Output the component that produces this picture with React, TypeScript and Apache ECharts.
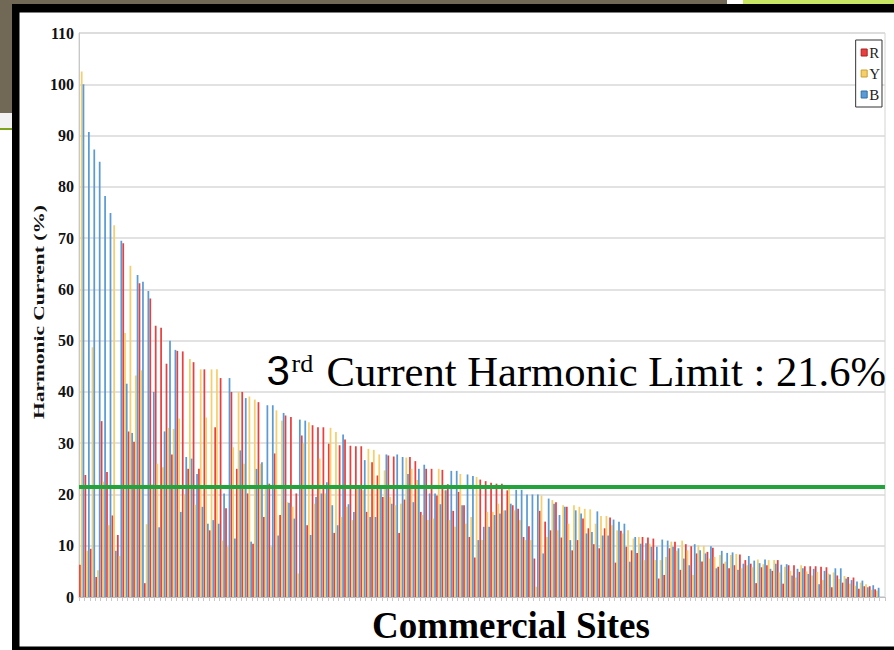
import React, { useEffect, useRef } from "react";
import * as echarts from "echarts";

// 149 commercial sites (last slot is empty in the source chart)
const siteCount = 149;
const categories: string[] = Array.from({ length: siteCount }, (_, i) => `Site ${i + 1}`);

const seriesNames = ["R", "Y", "B"];

const rValues: (number | null)[] = [
  6.3, 23.8, 9.4, 3.9, 34.3, 24.4, 15.9, 12.1, 69, 32.3,
  30.3, 61.2, 2.7, 58.2, 52.9, 52.5, 45.5, 27.8, 48, 47.9,
  25, 45.8, 25, 44.4, 13, 33.1, 42.7, 17.3, 40, 25,
  40, 20.2, 10.4, 38, 15.6, 22.1, 28, 16, 35.4, 35.1,
  20.2, 31.5, 14, 33.5, 33.1, 33.1, 29.9, 12.5, 29.6, 30.7,
  29.5, 29.4, 29.4, 16.6, 26.3, 23.7, 19.5, 27.6, 27.4, 12.5,
  19, 27.3, 26.5, 16.6, 25, 25, 19.8, 24.8, 22, 16.8,
  20.5, 17.9, 11.7, 7.7, 22.9, 22.6, 22.3, 22.1, 22.1, 20.8,
  17.9, 17.2, 11.7, 13.8, 7.5, 16.8, 14.7, 13, 18.5, 11.6,
  17.6, 9.1, 11.1, 15.3, 13.4, 10.3, 9.5, 13.4, 15.5, 6.7,
  12.9, 9.8, 9.1, 8.6, 11.7, 11.6, 11.4, 3.6, 4.3, 9.5,
  10.8, 5.3, 10.3, 9.9, 8.5, 6.9, 8.8, 9.6, 5.9, 6.5,
  5.6, 6.2, 8.3, 7.2, 6.5, 2.7, 5.8, 6.2, 5.1, 7.2,
  2.6, 6.2, 6.2, 4.9, 6, 6, 6, 5.9, 5.8, 1.9,
  4.2, 2.8, 3.9, 3.8, 1.6, 2.1, 2.1, 1.5, null,
];

const yValues: (number | null)[] = [
  102.5, 9, 48.7, 5.2, 22.5, 14, 72.5, 8, 51.5, 64.6,
  43.2, 44.2, 14.2, 22, 26, 25.3, 33, 32.8, 34.8, 20,
  46.4, 18, 44.4, 35, 44.4, 44.4, 11, 9.8, 29.2, 40,
  26, 39.1, 38.5, 26, 21.5, 9.8, 36.4, 34.4, 18.5, 17.6,
  4.6, 30, 34.1, 18.2, 27, 20.2, 33, 32.2, 15.6, 17.6,
  15, 21.5, 20.8, 28.9, 28.7, 27.8, 24.7, 19.5, 17.9, 18.2,
  27.2, 25, 22.8, 16, 15, 15.3, 25, 20.8, 15, 13.7,
  24, 14.3, 15.6, 23.4, 11.1, 16.6, 16.6, 18.2, 16.9, 21.8,
  16.9, 15, 11.1, 11.1, 2, 19.8, 11.7, 18.9, 13, 17.9,
  14.3, 17.9, 17.6, 17.2, 17.1, 14.3, 15.8, 15.8, 14, 13,
  12.4, 13, 11.4, 11.7, 7.2, 10.4, 7.2, 7.2, 7.8, 10.8,
  9, 11, 9.1, 4.3, 10.1, 10, 7.5, 7.8, 8.2, 6.9,
  8.2, 8.4, 5.6, 6.2, 5.8, 7.3, 6.4, 7.2, 7.2, 4.8,
  5.9, 5.1, 3.8, 6.2, 5, 4.2, 4.9, 3.3, 4.6, 4.8,
  3.5, 4.1, 2.6, 2.2, 2.8, 2.5, 1.4, 1.2, null,
];

const bValues: (number | null)[] = [
  100, 90.7, 87.3, 84.9, 78.2, 74.9, 9, 69.5, 41.6, 32,
  62.8, 61.5, 59.7, 40, 13.6, 32.3, 50, 48.2, 16.6, 27.3,
  27, 24, 17.6, 14.3, 15, 14.3, 20.2, 42.7, 11.4, 28.6,
  38.8, 10.8, 25, 26.3, 37.4, 37.4, 12, 35.9, 18.4, 15.3,
  34.6, 34.4, 12.1, 19.5, 20.2, 22.4, 17.9, 14, 31.7, 18.1,
  16.6, 21.5, 26.7, 15.6, 15.6, 21.6, 27.8, 18.2, 27.8, 27.3,
  24, 18.5, 25, 25.8, 20.2, 20.2, 18.1, 20.8, 24.6, 24.6,
  17.9, 23.9, 23.6, 11.1, 13.7, 13.7, 16, 16.3, 16.9, 18.2,
  20.9, 20.9, 20, 20, 20, 8.5, 19.2, 18.2, 16, 17.6,
  11.1, 16.9, 16.3, 12.4, 12.7, 16.7, 12, 12, 15.1, 14.7,
  14.3, 6.9, 11.7, 10.4, 10.5, 9.8, 9.8, 11.2, 11, 9.8,
  9.5, 7.5, 6.2, 10.3, 9.1, 8.5, 9.9, 5.6, 9, 8.6,
  8.7, 5.3, 6.5, 8, 7.1, 6.6, 7.3, 5.5, 6.5, 6.3,
  6.4, 4.2, 5.5, 5.6, 4.5, 5.5, 2.5, 5.1, 4.4, 5.6,
  5.6, 3.6, 3.3, 3, 3.2, 1.9, 2.3, 1.8, null,
];

const harmonicLimit = 21.6;
const yMin = 0;
const yMax = 110;
const yInterval = 10;

const colors = ["#e8403f", "#f6cf6b", "#5b9bd5"];
const legendBorders = ["#a82020", "#c9a030", "#2f6ea8"];

export default function App() {
  const ref = useRef<HTMLDivElement>(null);

  useEffect(() => {
    if (!ref.current) return;
    const chart = echarts.init(ref.current, undefined, { renderer: "svg" });
    const serif = "'Liberation Serif', 'Times New Roman', serif";
    const valuesList = [rValues, yValues, bValues];

    const option: any = {
      animation: false,
      backgroundColor: "#ffffff",
      grid: {
        left: 79,
        right: 9,
        top: 33,
        bottom: 53,
        show: true,
        borderColor: "#d4d4d4",
        borderWidth: 1,
      },
      legend: {
        data: seriesNames.map((n, i) => ({
          name: n,
          itemStyle: { borderColor: legendBorders[i], borderWidth: 1 },
        })),
        orient: "vertical",
        right: 12,
        top: 40,
        icon: "rect",
        itemWidth: 6,
        itemHeight: 7,
        itemGap: 6,
        padding: [5, 2, 5, 5],
        borderColor: "#333333",
        borderWidth: 1,
        backgroundColor: "#ffffff",
        textStyle: { fontFamily: serif, fontSize: 15, color: "#222", padding: [0, 0, 0, -3] },
      },
      xAxis: {
        type: "category",
        data: categories,
        boundaryGap: true,
        axisLine: { show: true, lineStyle: { color: "#bfbfbf", width: 1 } },
        axisTick: { show: true, interval: 0, length: 4, lineStyle: { color: "#c8c8c8" } },
        axisLabel: { show: false },
        splitLine: { show: false },
      },
      yAxis: {
        type: "value",
        min: yMin,
        max: yMax,
        interval: yInterval,
        axisLine: { show: true, lineStyle: { color: "#c8c8c8" } },
        axisTick: { show: false },
        axisLabel: {
          margin: 5,
          fontFamily: serif,
          fontWeight: "bold",
          fontSize: 16,
          color: "#111111",
        },
        splitLine: { show: true, lineStyle: { color: "#d9d9d9", width: 1.5 } },
      },
      series: seriesNames.map((name, i) => ({
        name,
        type: "bar",
        data: valuesList[i],
        barGap: "0%",
        barCategoryGap: "3%",
        itemStyle: { color: colors[i] },
        emphasis: { disabled: true },
        ...(i === 0
          ? {
              markLine: {
                silent: true,
                symbol: ["none", "none"],
                label: { show: false },
                lineStyle: { color: "#23a33c", width: 4, type: "solid" },
                data: [{ yAxis: harmonicLimit }],
              },
            }
          : {}),
      })),
      graphic: [
        // slide frame pieces
        { type: "rect", shape: { x: 0, y: 0, width: 727, height: 4 }, style: { fill: "#716856" }, silent: true },
        { type: "rect", shape: { x: 0, y: 0, width: 12, height: 113 }, style: { fill: "#716856" }, silent: true },
        { type: "rect", shape: { x: 0, y: 113, width: 12, height: 15 }, style: { fill: "#f2f2f2" }, silent: true },
        { type: "rect", shape: { x: 0, y: 128, width: 12, height: 2 }, style: { fill: "#7da21c" }, silent: true },
        { type: "rect", shape: { x: 743, y: 0, width: 151, height: 4 }, style: { fill: "#c8e663" }, silent: true },
        { type: "rect", shape: { x: 12, y: 4, width: 882, height: 8.5 }, style: { fill: "#000000" }, silent: true },
        { type: "rect", shape: { x: 12, y: 4, width: 7.5, height: 646 }, style: { fill: "#000000" }, silent: true },
        { type: "rect", shape: { x: 12, y: 646.5, width: 882, height: 3.5 }, style: { fill: "#000000" }, silent: true },
        // y axis title (stretched along its length like the source)
        {
          type: "text",
          x: 39,
          y: 312,
          rotation: Math.PI / 2,
          scaleX: 1.43,
          scaleY: 1,
          silent: true,
          style: {
            text: "Harmonic Current (%)",
            fontFamily: serif,
            fontWeight: "bold",
            fontSize: 15,
            fill: "#111111",
            textAlign: "center",
            textVerticalAlign: "middle",
          },
        },
        // x axis title
        {
          type: "text",
          x: 511,
          y: 625,
          silent: true,
          style: {
            text: "Commercial Sites",
            fontFamily: serif,
            fontWeight: "bold",
            fontSize: 37,
            fill: "#000000",
            textAlign: "center",
            textVerticalAlign: "middle",
          },
        },
        // limit annotation
        {
          type: "text",
          x: 266.5,
          y: 370.5,
          silent: true,
          z: 10,
          style: {
            text: "3",
            fontFamily: "'Liberation Sans', Arial, sans-serif",
            fontSize: 42,
            fill: "#000000",
            textAlign: "left",
            textVerticalAlign: "middle",
          },
        },
        {
          type: "text",
          x: 291.5,
          y: 363,
          silent: true,
          z: 10,
          style: {
            text: "rd",
            fontFamily: serif,
            fontSize: 26,
            fill: "#000000",
            textAlign: "left",
            textVerticalAlign: "middle",
          },
        },
        {
          type: "text",
          x: 326.5,
          y: 371,
          silent: true,
          z: 10,
          style: {
            text: "Current Harmonic Limit : 21.6%",
            fontFamily: serif,
            fontSize: 42.6,
            fill: "#000000",
            textAlign: "left",
            textVerticalAlign: "middle",
          },
        },
      ],
    };

    chart.setOption(option);
    return () => {
      chart.dispose();
    };
  }, []);

  return (
    <div
      ref={ref}
      style={{ position: "absolute", left: 0, top: 0, width: 894, height: 650 }}
    />
  );
}
